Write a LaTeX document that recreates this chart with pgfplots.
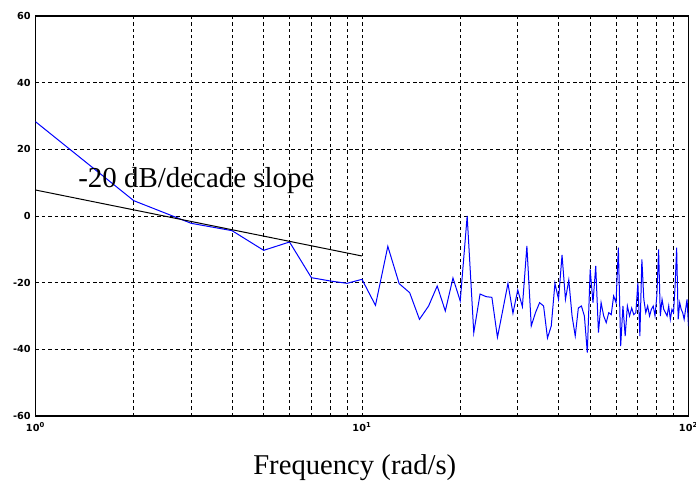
\documentclass[border=0pt]{standalone}
\usepackage{fontspec}
\setmainfont{Liberation Serif}
\newfontfamily\tickfont{DejaVu Sans}
\usepackage{pgfplots}
\pgfplotsset{compat=1.18}
\begin{document}
\begin{tikzpicture}
\path[use as bounding box] (-26.6pt,-51.75pt) rectangle (495.4pt,312pt);
\begin{axis}[
  at={(0,0)}, anchor=south west,
  scale only axis, width=489.75pt, height=300pt,
  xmode=log, xmin=1, xmax=100, ymin=-60, ymax=60,
  log basis x=10,
  xtick={1,10,100}, xticklabels={10\textsuperscript{0},10\textsuperscript{1},10\textsuperscript{2}},
  minor xtick={2,3,4,5,6,7,8,9,20,30,40,50,60,70,80,90},
  ytick={-60,-40,-20,0,20,40,60},
  yticklabels={-60,-40,-20,0,20,40,60},
  major tick length=0pt, minor tick length=0pt,
  grid=both,
  major grid style={black, line width=0.7pt, dash pattern=on 2.6pt off 2.2pt},
  minor grid style={black, line width=0.7pt, dash pattern=on 2.6pt off 2.2pt},
  axis line style={black, line width=1.1pt},
  tick label style={font=\tickfont\bfseries\fontsize{7.3}{8}\selectfont},
  xticklabel style={yshift=-1pt},
  xlabel={Frequency (rad/s)},
  xlabel style={at={(axis description cs:0.489,0)}, anchor=base, yshift=-44pt, font=\fontsize{21.5}{25}\selectfont},
  clip=true,
]
\addplot[blue, line width=0.75pt] coordinates {
(1,28.3)(2,4.6)(3,-2.2)(4,-4.4)(5,-10.3)(6,-7.8)(7,-18.5)(8,-19.5)(9,-20.2)(10,-19)
(11,-26.8)(12,-9.1)(13,-20.3)(14,-23)(15,-31)(16,-27)(17,-21)(18,-28.5)(19,-18.6)(20,-25.5)
(21,0)(22,-35)(23,-23.4)(24,-24.2)(25,-24.4)(26,-36.4)(27,-28.2)(28,-20.2)(29,-29.2)(30,-22.2)
(31,-27.2)(32,-9)(33,-33)(34,-29)(35,-26)(36,-27)(37,-36.6)(38,-33)(39,-20.2)(40,-25)
(41,-11.7)(42,-25)(43,-19.2)(44,-30)(45,-36)(46,-27.6)(47,-27)(48,-30)(49,-41)(50,-16)
(51,-26)(52,-15)(53,-35)(54,-26)(55,-30)(56,-32)(57,-29)(58,-29.6)(59,-24)(60,-26)
(61,-9.5)(62,-39)(63,-27)(64,-36)(65,-27)(66,-30)(67,-27.6)(68,-29.6)(69,-29)(70,-20)
(71,-36)(72,-13)(73,-25)(74,-29)(75,-27)(76,-30)(77,-28)(78,-27)(79,-30)(80,-24)
(81,-10)(82,-30)(83,-25)(84,-28)(85,-29)(86,-30)(87,-27)(88,-31)(89,-28)(90,-29)
(91,-21)(92,-9.5)(93,-31)(94,-26)(95,-28)(96,-29)(97,-31)(98,-28)(99,-25)(100,-33)
};
\addplot[black, line width=0.75pt] coordinates {(1,7.8)(10,-12)};
\node[anchor=base west, inner sep=0pt, font=\fontsize{21.7}{25}\selectfont] at (axis cs:1.35,8.4) {-20 dB/decade slope};
\end{axis}
\end{tikzpicture}
\end{document}
